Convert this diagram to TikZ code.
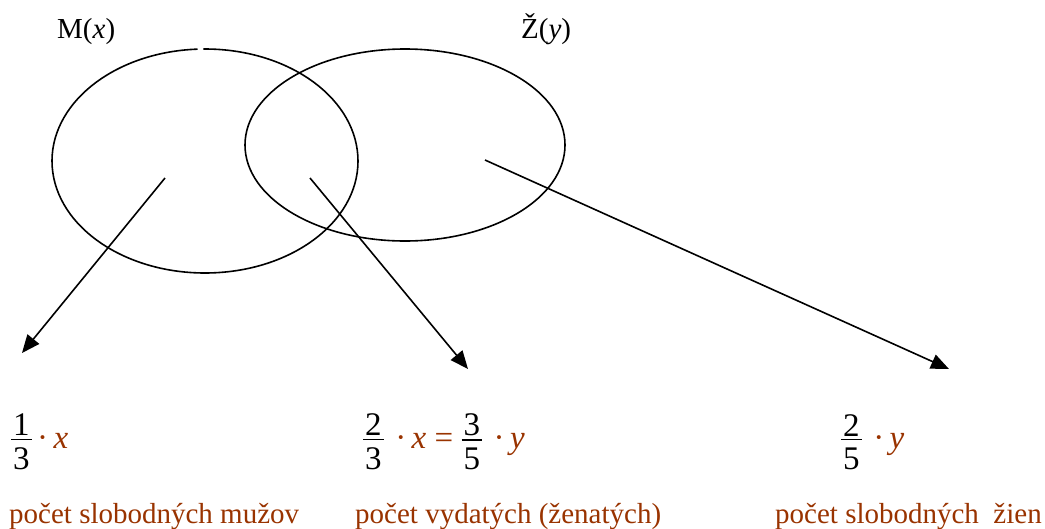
\documentclass[tikz,border=0pt]{standalone}
\usepackage{fontspec}
\setmainfont{Liberation Serif}
\usetikzlibrary{arrows.meta}
\definecolor{brn}{HTML}{993300}
\newcommand{\fr}[2]{$\vcenter{\halign{\hfil\kern2pt##\kern2pt\hfil\cr #1\cr\noalign{\kern3pt\hrule height1.3pt\kern7pt}#2\cr}}$}
\tikzset{
  lbltxt/.style={inner sep=0pt, anchor=base west, font=\fontsize{29}{33}\selectfont},
  eqtxt/.style={inner sep=0pt, anchor=base west, font=\fontsize{33}{40}\selectfont},
  captxt/.style={inner sep=0pt, anchor=base west, text=brn, font=\fontsize{29}{34}\selectfont},
  setline/.style={line width=1.6pt},
  arr/.style={line width=1.6pt, -{Triangle[length=18pt,width=15pt]}}
}
\begin{document}
\begin{tikzpicture}[x=1pt,y=1pt]
\useasboundingbox (0,0) rectangle (1045,-528);
% sets
\draw[setline] (205,-161) ++(92.8:153 and 112) arc[start angle=92.8, end angle=450.6, x radius=153, y radius=112];
\draw[setline] (405,-145) ellipse[x radius=160, y radius=96];
\node[lbltxt] (M) at (57,-38) {M(\textit{x})};
\node[lbltxt] (Z) at (521,-38) {Ž(\textit{y})};
% arrow anchors
\coordinate (sM) at (165,-178);
\coordinate (sMZ) at (310,-178);
\coordinate (sZ) at (485,-160);
\coordinate (tM) at (22,-353);
\coordinate (tMZ) at (468,-369);
\coordinate (tZ) at (949,-369);
\draw[arr] (sM) -- (tM);
\draw[arr] (sMZ) -- (tMZ);
\draw[arr] (sZ) -- (tZ);
% formulas
\node[eqtxt] (e1) at (11,-448) {\fr{1}{3}\,\textcolor{brn}{·\,\textit{x}}};
\node[eqtxt] (e2) at (363,-448) {\fr{2}{3}\hspace{0.35em}\textcolor{brn}{·\,\textit{x} =} \fr{3}{5}\hspace{0.35em}\textcolor{brn}{·\,\textit{y}}};
\node[eqtxt] (e3) at (841,-448) {\fr{2}{5}\hspace{0.35em}\textcolor{brn}{·\,\textit{y}}};
% captions
\node[captxt] (c1) at (9,-523) {počet slobodných mužov};
\node[captxt] (c2) at (355,-523) {počet vydatých (ženatých)};
\node[captxt] (c3) at (775,-523) {počet slobodných\ \ žien};
\end{tikzpicture}
\end{document}
